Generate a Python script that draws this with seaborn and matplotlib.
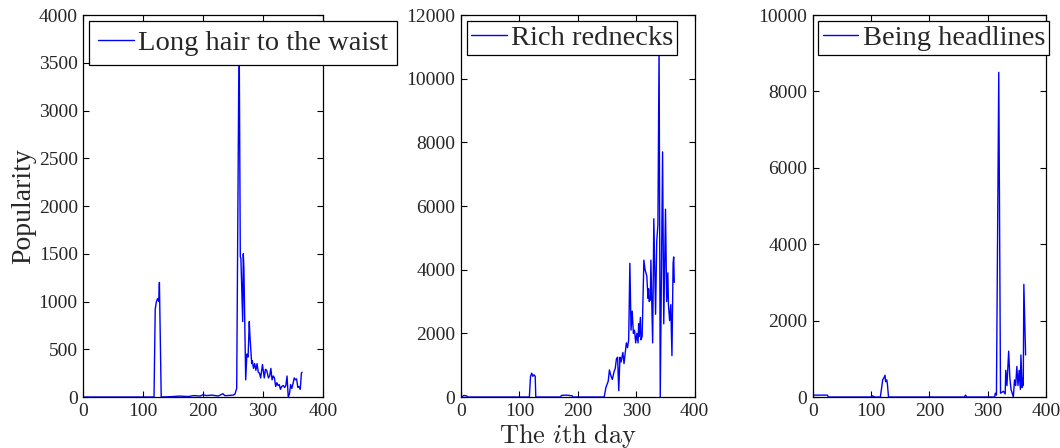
import matplotlib
matplotlib.use('Agg')
import matplotlib.pyplot as plt
import seaborn as sns
import pandas as pd

# popularity of three topics over the days of one year
hair_days = [1, 118, 120, 122, 124, 126, 127, 128, 130, 150, 160, 175, 185, 195, 200, 205, 215,
             225, 233, 236, 240, 250, 253, 256, 260, 262, 263, 266, 267, 268, 271, 273, 275, 277,
             278, 281, 282, 284, 286, 288, 290, 292, 294, 296, 299, 302, 304, 306, 309, 311, 313,
             315, 317, 319, 321, 323, 325, 327, 329, 331, 334, 336, 338, 340, 342, 344, 346, 348,
             350, 352, 354, 356, 358, 360, 362, 364, 365]
hair_vals = [0, 0, 920, 1000, 1030, 1000, 1200, 800, 0, 5, 10, 5, 15, 10, 25, 15, 20,
             10, 35, 15, 15, 20, 30, 90, 3900, 1470, 1450, 790, 1500, 1350, 180, 450, 420, 790,
             650, 350, 380, 300, 350, 280, 350, 260, 250, 200, 340, 200, 290, 280, 200, 220, 300,
             180, 220, 200, 110, 150, 120, 130, 80, 110, 120, 100, 120, 220, 0, 30, 130, 90,
             140, 200, 180, 190, 100, 110, 80, 250, 260]

redneck_days = [1, 5, 10, 12, 117, 119, 121, 123, 125, 127, 128, 170, 172, 180, 190, 192, 245,
                248, 250, 252, 254, 256, 259, 262, 264, 266, 268, 270, 272, 274, 277, 279, 283,
                285, 287, 289, 291, 293, 295, 297, 299, 301, 303, 304, 305, 307, 308, 310, 313,
                315, 318, 320, 321, 322, 324, 325, 328, 330, 333, 335, 337, 339, 341, 345, 347,
                350, 352, 354, 355, 357, 359, 361, 363, 364, 365]
redneck_vals = [0, 50, 30, 0, 0, 650, 750, 650, 700, 650, 0, 0, 50, 60, 40, 0, 0,
                300, 400, 500, 850, 700, 550, 800, 900, 1200, 1250, 200, 1250, 1100, 1400, 1050, 1700,
                1550, 1800, 4200, 2100, 2700, 2000, 2100, 1700, 2000, 1700, 2300, 1900, 2500, 1800, 1900, 4300,
                4000, 3800, 3100, 3400, 3000, 3050, 4300, 1700, 5600, 2600, 4900, 5400, 11000, 0, 7700, 2300,
                5900, 3000, 3900, 2900, 2400, 2900, 1300, 4200, 4400, 3600]

headline_days = [1, 25, 27, 100, 103, 106, 116, 120, 122, 124, 125, 127, 128, 130, 260, 262, 264,
                 312, 313, 315, 319, 322, 327, 330, 331, 333, 336, 338, 340, 342, 344, 346, 348,
                 350, 352, 354, 356, 357, 359, 360, 361, 362, 365]
headline_vals = [50, 50, 0, 0, 30, 0, 0, 450, 500, 570, 400, 450, 350, 0, 0, 50, 0,
                 0, 100, 50, 8500, 100, 150, 80, 700, 300, 1200, 500, 200, 100, 0, 450, 300,
                 800, 300, 700, 200, 1100, 250, 500, 300, 2950, 1100]

labels = ['Long hair to the waist', 'Rich rednecks', 'Being headlines']
ymaxes = [4000, 12000, 10000]
ysteps = [500, 2000, 2000]

sns.set_style('ticks')
plt.rcParams['font.family'] = ['Liberation Serif', 'DejaVu Serif']
plt.rcParams['mathtext.fontset'] = 'cm'
plt.rcParams['xtick.direction'] = 'in'
plt.rcParams['ytick.direction'] = 'in'
plt.rcParams['xtick.top'] = True
plt.rcParams['ytick.right'] = True

fig = plt.figure(figsize=(10.6, 4.48), dpi=100)
lefts = [0.0786, 0.4349, 0.7667]
widths = [0.2261, 0.2205, 0.2201]
series = [(hair_days, hair_vals), (redneck_days, redneck_vals), (headline_days, headline_vals)]

for i in range(3):
    ax = fig.add_axes([lefts[i], 0.1138, widths[i], 0.8527])
    df = pd.DataFrame({'day': series[i][0], 'pop': series[i][1]})
    sns.lineplot(data=df, x='day', y='pop', ax=ax, color='#0000ff', lw=1.0,
                 estimator=None, label=labels[i])
    ax.set_xlim(0, 400)
    ax.set_ylim(0, ymaxes[i])
    ax.set_xticks(range(0, 401, 100))
    ax.set_yticks(range(0, ymaxes[i] + 1, ysteps[i]))
    ax.tick_params(labelsize=14, length=4, width=0.8, color='black', pad=4)
    for s in ax.spines.values():
        s.set_color('black')
        s.set_linewidth(0.9)
    ax.set_xlabel('')
    ax.set_ylabel('')
    bp = 0.32 if i == 0 else 0.15
    leg = ax.legend(loc='upper left', bbox_to_anchor=(0, 1), fontsize=20.5, frameon=True,
                    fancybox=False, framealpha=1, edgecolor='black', borderpad=bp,
                    handlelength=1.25, handletextpad=0.15, borderaxespad=0.2)
    leg.get_frame().set_linewidth(0.9)
    if i == 0:
        ax.set_ylabel('Popularity', fontsize=20, labelpad=2)

fig.text(568 / 1060, 1 - 436 / 448, r'$\mathrm{The\ }i\mathrm{th\ day}$', fontsize=19,
         ha='center', va='center')

fig.savefig('out.png', dpi=100)
